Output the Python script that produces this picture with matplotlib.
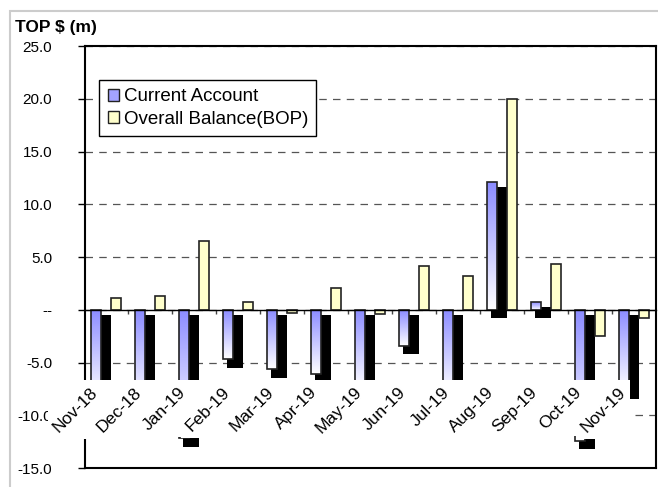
import numpy as np
import matplotlib
matplotlib.use("Agg")
import matplotlib.pyplot as plt
from matplotlib.patches import Patch, Rectangle
from matplotlib.colors import LinearSegmentedColormap

plt.rcParams["font.family"] = ["Liberation Sans", "DejaVu Sans"]

# monthly values, TOP $ million
months = ["Nov-18", "Dec-18", "Jan-19", "Feb-19", "Mar-19", "Apr-19", "May-19",
          "Jun-19", "Jul-19", "Aug-19", "Sep-19", "Oct-19", "Nov-19"]
current_account = [-8.5, -9.0, -12.2, -4.7, -5.65, -6.1, -7.5, -3.4, -8.0, 12.1, 0.75, -12.4, -7.7]
overall_balance = [1.1, 1.3, 6.5, 0.75, -0.35, 2.1, -0.4, 4.15, 3.2, 20.0, 4.35, -2.5, -0.75]

yticks = [25, 20, 15, 10, 5, 0, -5, -10, -15]

fig = plt.figure(figsize=(6.58, 4.87), dpi=100)
ax = fig.add_axes([0.129, 0.039, 0.868, 0.8665])

# light grey outer border
fig.patches.append(Rectangle((0.0152, -0.05), 1.2, 0.977 + 0.05, transform=fig.transFigure,
                             fill=False, ec="#cccccc", lw=1.5))

x = np.arange(len(months))
w = 0.227
ca = np.array(current_account)
ob = np.array(overall_balance)

# black drop shadow behind the current account bars
lo = np.minimum(ca, 0)
hi = np.maximum(ca, 0)
ax.bar(x - 0.08, (hi - 0.45) - (lo - 0.8), bottom=lo - 0.8, width=0.36,
       color="black", zorder=1)

# current account bars with blue -> white gradient
blue_cmap = LinearSegmentedColormap.from_list("bw", ["white", "#8c8cff"])
grad = np.linspace(0, 1, 100).reshape(-1, 1)
ca_bars = ax.bar(x - w, ca, width=w, facecolor="none", edgecolor="#222222",
                 linewidth=1.2, zorder=2.1)
for b in ca_bars:
    x0, y0 = b.get_x(), b.get_y()
    x1, y1 = x0 + b.get_width(), y0 + b.get_height()
    im = ax.imshow(grad, extent=(x0, x1, min(y0, y1), max(y0, y1)), origin="lower",
                   cmap=blue_cmap, aspect="auto", zorder=2)
    im.set_clip_path(b)

ax.bar(x + w, ob, width=w, color="#ffffcc", edgecolor="#222222", linewidth=1.2, zorder=2)

ax.set_xlim(-0.49, 12.49)
ax.set_ylim(-15, 25)

# grid
ax.set_axisbelow(True)
ax.set_yticks(yticks)
ax.set_yticklabels(["--" if v == 0 else f"{v:.1f}" for v in yticks], fontsize=11)
ax.yaxis.grid(True, color="#555555", linestyle=(0, (6, 5)), linewidth=0.9)
ax.tick_params(axis="y", length=5, width=1, pad=18.5)

# x axis line through zero with boundary ticks
ax.spines["bottom"].set_position(("data", 0))
ax.spines["bottom"].set_linewidth(1)
ax.set_xticks(np.arange(0.5, 12, 1))
ax.set_xticklabels([])
ax.tick_params(axis="x", length=3, width=1, direction="out", color="#444444")
for s in ["top", "right", "left"]:
    ax.spines[s].set_linewidth(1.5)
ax.axhline(-15, color="black", lw=1.5, clip_on=False, zorder=2.5)

# month labels sitting inside the plot with white boxes
labels = []
for i, m in enumerate(months):
    t = ax.text(i - 0.14, -7.1, m, rotation=45, ha="right", va="top",
                fontsize=12.5, zorder=4)
    labels.append(t)

fig.canvas.draw()
inv = ax.transData.inverted()
for t in labels:
    bb = t.get_window_extent()
    (a0, b0) = inv.transform((bb.x0 - 2, bb.y0 - 4))
    (a1, b1) = inv.transform((bb.x1 + 2, bb.y1 + 5))
    ax.add_patch(Rectangle((a0, b0), a1 - a0, b1 - b0, facecolor="white",
                           edgecolor="none", zorder=3, clip_on=False))

handles = [Patch(facecolor="#a3a3ff", edgecolor="#222222"),
           Patch(facecolor="#ffffcc", edgecolor="#222222")]
leg = ax.legend(handles, ["Current Account", "Overall Balance(BOP)"],
                loc="upper left", bbox_to_anchor=(0.025, 0.92), borderaxespad=0,
                fontsize=13.5, fancybox=False, framealpha=1, edgecolor="black",
                handlelength=0.6, handleheight=0.6, handletextpad=0.25,
                borderpad=0.45, labelspacing=0.3)
leg.get_frame().set_linewidth(1)

fig.text(0.023, 0.934, "TOP $ (m)", fontsize=12.5, fontweight="bold")

fig.savefig("out.png", dpi=100)
